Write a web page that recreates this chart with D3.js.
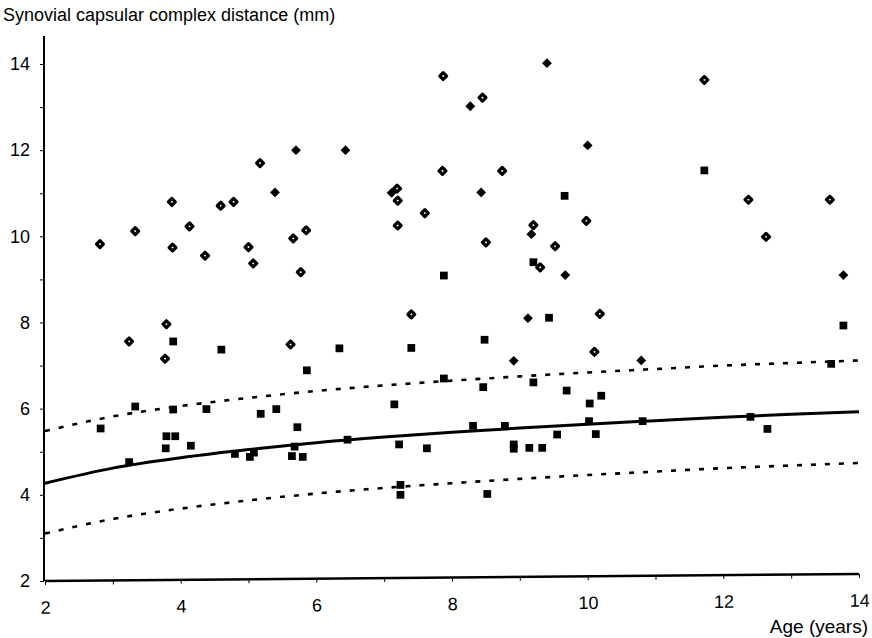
<!DOCTYPE html>
<html lang="en">
<head>
    <meta charset="UTF-8">
    <title>Synovial capsular complex distance</title>
    <script src="https://cdn.jsdelivr.net/npm/d3@7/dist/d3.min.js"></script>
    <style>
        body { margin: 0; background: #ffffff; }
        text { font-family: "Liberation Sans", Arial, sans-serif; fill: #000000; }
        .axis path, .axis line { stroke: #000000; }
    </style>
</head>
<body>
    <div id="canvas"></div>

    <script>
        // open diamonds
        const openAge  = [2.81, 3.24, 3.33, 3.79, 3.77, 3.87, 3.88, 4.13, 4.36, 4.59, 4.78, 5.00, 5.07, 5.17, 5.62, 5.66, 5.85, 5.77, 7.19, 7.20, 7.20, 7.40, 7.60, 7.86, 7.87, 8.45, 8.50, 8.74, 9.20, 9.30, 9.52, 9.98, 10.10, 10.18, 11.72, 12.37, 12.63, 13.57];
        const openDist = [9.82, 7.56, 10.12, 7.96, 7.16, 10.80, 9.74, 10.23, 9.55, 10.71, 10.80, 9.75, 9.37, 11.70, 7.49, 9.95, 10.14, 9.17, 11.11, 10.83, 10.25, 8.19, 10.54, 11.52, 13.72, 13.22, 9.86, 11.52, 10.26, 9.28, 9.77, 10.36, 7.32, 8.20, 13.63, 10.85, 9.99, 10.85];

        // filled diamonds
        const fillAge  = [5.39, 5.70, 6.43, 7.11, 8.27, 8.43, 8.91, 9.12, 9.17, 9.40, 9.67, 10.00, 10.79, 13.77];
        const fillDist = [11.02, 12.00, 12.00, 11.01, 13.02, 11.02, 7.11, 8.10, 10.05, 14.02, 9.10, 12.11, 7.12, 9.10];

        // filled squares
        const sqAge  = [2.82, 3.24, 3.33, 3.78, 3.79, 3.92, 3.89, 3.89, 4.15, 4.38, 4.60, 4.80, 5.02, 5.08, 5.18, 5.41, 5.64, 5.68, 5.72, 5.80, 5.86, 6.34, 6.46, 7.15, 7.22, 7.24, 7.24, 7.40, 7.63, 7.88, 7.88, 8.31, 8.46, 8.48, 8.52, 8.78, 8.91, 8.91, 9.14, 9.20, 9.20, 9.33, 9.43, 9.55, 9.66, 9.69, 10.02, 10.03, 10.12, 10.20, 10.81, 11.72, 12.40, 12.65, 13.59, 13.77];
        const sqDist = [5.54, 4.76, 6.05, 5.08, 5.36, 5.36, 5.98, 7.56, 5.14, 5.99, 7.37, 4.95, 4.88, 4.98, 5.88, 5.99, 4.90, 5.12, 5.57, 4.88, 6.89, 7.40, 5.28, 6.10, 5.17, 4.23, 4.00, 7.41, 5.08, 9.09, 6.70, 5.60, 6.50, 7.60, 4.02, 5.60, 5.17, 5.07, 5.09, 6.61, 9.40, 5.09, 8.11, 5.40, 10.94, 6.42, 5.71, 6.12, 5.41, 6.30, 5.71, 11.53, 5.81, 5.53, 7.04, 7.93];

        // fitted curves read at whole years
        const curveAge   = [2, 3, 4, 5, 6, 7, 8, 9, 10, 11, 12, 13, 14];
        const meanLine   = [4.27, 4.62, 4.86, 5.05, 5.21, 5.34, 5.45, 5.55, 5.64, 5.72, 5.80, 5.87, 5.93];
        const upperLine  = [5.48, 5.82, 6.06, 6.25, 6.41, 6.54, 6.65, 6.75, 6.84, 6.92, 7.00, 7.06, 7.12];
        const lowerLine  = [3.10, 3.44, 3.68, 3.87, 4.03, 4.16, 4.27, 4.37, 4.46, 4.54, 4.62, 4.68, 4.74];

        const xTicks = [2, 4, 6, 8, 10, 12, 14];
        const yTicks = [2, 4, 6, 8, 10, 12, 14];
    </script>

    <script>
        const width = 872;
        const height = 638;

        const svg = d3.select('#canvas')
            .append('svg')
            .attr('width', width)
            .attr('height', height);

        const x = d3.scaleLinear().domain([2, 14]).range([45, 859]);
        const y = d3.scaleLinear().domain([2, 14]).range([581, 64]);

        // y axis
        const yAxis = svg.append('g')
            .attr('class', 'axis')
            .attr('transform', `translate(${x(2) - 1},0)`)
            .call(d3.axisLeft(y).tickValues(d3.range(2, 15, 1)).tickSize(4).tickFormat(d => yTicks.includes(d) ? d : ''));
        yAxis.select('.domain').attr('d', `M0,${y(14.65)}V${y(2)}`).attr('stroke-width', 2);
        yAxis.selectAll('line').attr('stroke-width', 1);
        yAxis.selectAll('text').attr('font-size', 18).attr('x', -14);

        // x axis (slightly tilted like the scan)
        const xAxis = svg.append('g')
            .attr('class', 'axis')
            .attr('transform', `translate(0,${y(2)}) rotate(-0.5, ${x(2)}, 0)`)
            .call(d3.axisBottom(x).tickValues(d3.range(2, 15, 1)).tickSize(4).tickFormat(d => xTicks.includes(d) ? d : ''));
        xAxis.select('.domain').attr('d', `M${x(2)},0H${x(14)}`).attr('stroke-width', 2.5);
        xAxis.selectAll('text').attr('font-size', 18).attr('y', 20);

        // axis titles
        svg.append('text')
            .attr('x', 3)
            .attr('y', 21)
            .attr('font-size', 18)
            .text('Synovial capsular complex distance (mm)');

        svg.append('text')
            .attr('x', 868)
            .attr('y', 633)
            .attr('text-anchor', 'end')
            .attr('font-size', 19)
            .text('Age (years)');

        // curves
        const line = d3.line()
            .x((d, i) => x(curveAge[i]))
            .y(d => y(d))
            .curve(d3.curveMonotoneX);

        svg.append('path')
            .datum(upperLine)
            .attr('d', line)
            .attr('fill', 'none')
            .attr('stroke', '#000')
            .attr('stroke-width', 2.6)
            .attr('stroke-dasharray', '5,9');

        svg.append('path')
            .datum(lowerLine)
            .attr('d', line)
            .attr('fill', 'none')
            .attr('stroke', '#000')
            .attr('stroke-width', 2.6)
            .attr('stroke-dasharray', '5,9');

        svg.append('path')
            .datum(meanLine)
            .attr('d', line)
            .attr('fill', 'none')
            .attr('stroke', '#000')
            .attr('stroke-width', 3);

        // markers
        const diamond = d3.symbol().type(d3.symbolDiamond2).size(30);
        const diamondFill = d3.symbol().type(d3.symbolDiamond2).size(62);
        const square = d3.symbol().type(d3.symbolSquare).size(60);

        svg.append('g')
            .selectAll('path')
            .data(openAge)
            .enter()
            .append('path')
            .attr('d', diamond)
            .attr('transform', (d, i) => `translate(${x(d)},${y(openDist[i])})`)
            .attr('fill', '#fff')
            .attr('stroke', '#000')
            .attr('stroke-width', 3.2)
            .attr('stroke-linejoin', 'round');

        svg.append('g')
            .selectAll('path')
            .data(fillAge)
            .enter()
            .append('path')
            .attr('d', diamondFill)
            .attr('transform', (d, i) => `translate(${x(d)},${y(fillDist[i])})`)
            .attr('fill', '#000');

        svg.append('g')
            .selectAll('path')
            .data(sqAge)
            .enter()
            .append('path')
            .attr('d', square)
            .attr('transform', (d, i) => `translate(${x(d)},${y(sqDist[i])})`)
            .attr('fill', '#000');
    </script>
</body>
</html>
